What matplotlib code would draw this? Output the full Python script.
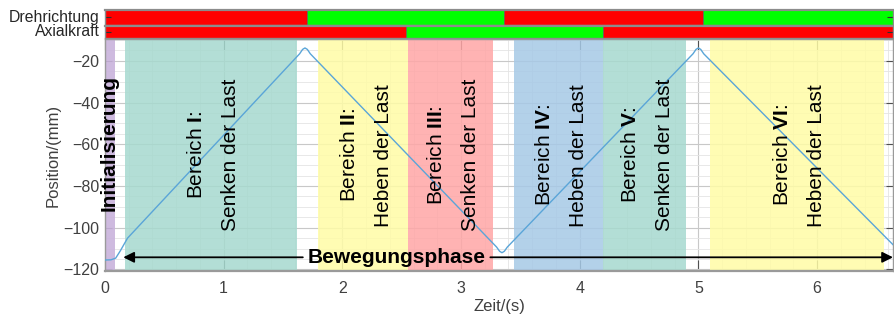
import numpy as np
import matplotlib
matplotlib.use("Agg")
import matplotlib.pyplot as plt
from matplotlib.ticker import MultipleLocator

plt.rcParams['font.family'] = ['Liberation Sans', 'DejaVu Sans']
plt.rcParams['mathtext.fontset'] = 'custom'
plt.rcParams['mathtext.rm'] = 'Liberation Sans'
plt.rcParams['mathtext.bf'] = 'Liberation Sans:bold'

# Position curve (time in s, position in mm)
time_s = [0.00, 0.05, 0.09, 0.13, 0.19,
          1.64, 1.665, 1.685, 1.705, 1.73,
          3.30, 3.325, 3.345, 3.365, 3.39,
          4.955, 4.98, 5.00, 5.02, 5.045, 6.655]
position_mm = [-115.5, -115.4, -114.6, -111.0, -105.0,
               -16.6, -14.5, -13.8, -14.5, -16.6,
               -109.3, -111.3, -112.0, -111.3, -109.3,
               -16.6, -14.5, -13.8, -14.5, -16.6, -109.0]

# State bars: switching times and state (0 = red, 1 = green)
dreh_edges = [0.0, 1.70, 3.364, 5.035, 6.64]
dreh_state = [0, 1, 0, 1]
axial_edges = [0.0, 2.533, 4.20, 6.64]
axial_state = [0, 1, 0]

# Phases
init_phase = (0.0, 0.084)
regions = [(0.168, 1.615), (1.797, 2.555), (2.555, 3.27),
           (3.448, 4.198), (4.198, 4.895), (5.097, 6.56)]
region_names = ['I', 'II', 'III', 'IV', 'V', 'VI']
region_task = ['Senken der Last', 'Heben der Last', 'Senken der Last',
               'Heben der Last', 'Senken der Last', 'Heben der Last']
region_colors = ['#a6d9cf', '#fffca6', '#ffa6a6', '#a6c9e6', '#a6d9cf', '#fffca6']
move_phase = (0.154, 6.64)

xmax = 6.64
state_colors = ['#ff0000', '#00ff00']
tick_color = '#404040'

fig = plt.figure(figsize=(8.95, 3.2), dpi=100)
left, width = 105 / 895, 788 / 895
ax = fig.add_axes([left, 0.1516, width, 0.7266])
ax_dreh = fig.add_axes([left, 0.9234, width, 0.0453])
ax_axial = fig.add_axes([left, 0.8828, width, 0.0375])


def state_bar(a, edges, states, label):
    edges = np.array(edges)
    a.barh(0.5, np.diff(edges), left=edges[:-1], height=1.0,
           color=[state_colors[s] for s in states], edgecolor='#606060', linewidth=0.5)
    a.set_xlim(0, xmax)
    a.set_ylim(0, 1)
    a.set_xticks([])
    a.set_yticks([0.5])
    a.set_yticklabels([])
    a.tick_params(axis='y', direction='in', length=4, color='#303030', right=True)
    for s in a.spines.values():
        s.set_color('#8c8c8c')
        s.set_linewidth(1.0)
    a.spines['top'].set_linewidth(1.6)
    fig.text(left - 0.006, a.get_position().y0 + a.get_position().height / 2, label,
             ha='right', va='center', fontsize=11.3, color='#262626')


state_bar(ax_dreh, dreh_edges, dreh_state, 'Drehrichtung')
state_bar(ax_axial, axial_edges, axial_state, 'Axialkraft')

# Main axes
ax.set_xlim(0, xmax)
ax.set_ylim(-121, -9.5)
ax.xaxis.set_major_locator(MultipleLocator(1))
ax.xaxis.set_minor_locator(MultipleLocator(0.2))
ax.yaxis.set_major_locator(MultipleLocator(20))
ax.yaxis.set_minor_locator(MultipleLocator(5))
ax.grid(which='major', color='#c8c8c8', linewidth=0.8, zorder=0)
ax.grid(which='minor', color='#e4e4e4', linewidth=0.6, zorder=0)
ax.set_axisbelow(True)
ax.tick_params(axis='x', which='major', direction='in', length=8, top=True,
               color='#505050', labelsize=11.5, labelcolor=tick_color, pad=7)
ax.tick_params(axis='y', which='major', direction='in', length=5, right=True,
               color='#505050', labelsize=11.5, labelcolor=tick_color, pad=4)
ax.tick_params(which='minor', length=0)
for s in ax.spines.values():
    s.set_color('#9a9a9a')
    s.set_linewidth(1.0)
ax.spines['bottom'].set_linewidth(1.6)

ax.set_xlabel('Zeit/(s)', fontsize=12, color=tick_color, labelpad=2)
ax.set_ylabel('Position/(mm)', fontsize=12, color=tick_color, labelpad=2)

# Shaded phases
ax.axvspan(*init_phase, color='#c9b3dc', alpha=0.9, lw=0, zorder=1)
for (x0, x1), c in zip(regions, region_colors):
    ax.axvspan(x0, x1, color=c, alpha=0.85, lw=0, zorder=1)

ax.plot(time_s, position_mm, color='#5aa5d8', linewidth=1.0, zorder=3)

# Labels
ax.text(np.mean(init_phase) - 0.01, -59.5, 'Initialisierung', rotation=90,
        ha='center', va='center', fontsize=15, fontweight='bold', zorder=4)
for (x0, x1), name, task in zip(regions, region_names, region_task):
    ax.text((x0 + x1) / 2 + 0.025, 0.5, 'Bereich $\\mathbf{%s}$:\n%s' % (name, task),
            transform=ax.get_xaxis_transform(), rotation=90, ha='center', va='center',
            multialignment='center', fontsize=15, linespacing=2.0, zorder=4)

arrow_y = -114.2
label = ax.text(2.457, arrow_y, 'Bewegungsphase', ha='center', va='center',
                fontsize=15, fontweight='bold', zorder=5)
fig.canvas.draw()
bb = label.get_window_extent().transformed(ax.transData.inverted())
gap = 0.04
arrow = dict(arrowstyle='-|>', color='black', lw=1.3, mutation_scale=16,
             shrinkA=0, shrinkB=0)
ax.annotate('', xy=(move_phase[0], arrow_y), xytext=(bb.x0 - gap, arrow_y),
            arrowprops=arrow, zorder=5)
ax.annotate('', xy=(move_phase[1], arrow_y), xytext=(bb.x1 + gap, arrow_y),
            arrowprops=arrow, zorder=5, annotation_clip=False)

fig.savefig('out.png', dpi=100)
